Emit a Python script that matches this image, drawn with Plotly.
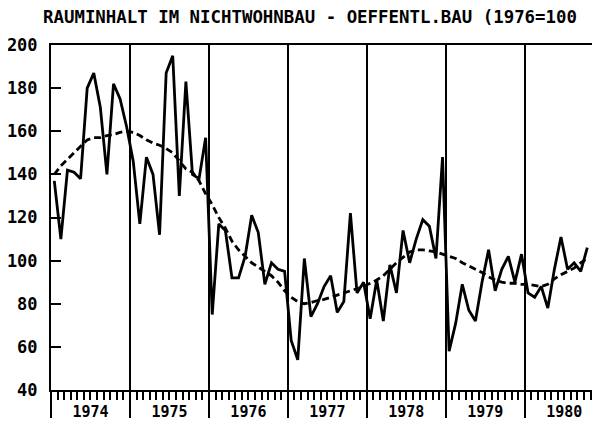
import plotly.graph_objects as go

years = ["1974", "1975", "1976", "1977", "1978", "1979", "1980"]

values = [
    # 1974
    137, 110, 142, 141, 138, 180, 187, 171, 140, 182, 175, 162,
    # 1975
    146, 117, 148, 140, 112, 187, 195, 130, 183, 140, 138, 157,
    # 1976
    75, 117, 114, 92, 92, 102, 121, 113, 89, 99, 96, 95,
    # 1977
    63, 54, 101, 74, 80, 88, 93, 76, 81, 122, 85, 90,
    # 1978
    73, 91, 72, 98, 85, 114, 99, 110, 119, 116, 101, 148,
    # 1979
    58, 71, 89, 77, 72, 90, 105, 86, 96, 102, 90, 103,
    # 1980
    85, 83, 88, 78, 96, 111, 96, 99, 95, 106,
]

trend = [
    # 1974
    140, 144, 147, 150, 153, 156, 157, 157, 158, 158.5, 159.5, 160,
    # 1975
    159.5, 158, 156, 154.5, 153.5, 152, 150, 146, 142.5, 141, 137, 131,
    # 1976
    126, 120, 115, 109, 105, 102, 99, 97, 95, 93, 90, 86,
    # 1977
    83, 81, 80, 80.5, 81.5, 82, 83, 84, 85, 86, 87, 88,
    # 1978
    89.5, 91, 93, 96, 99, 101.5, 104, 105, 105, 104.5, 104, 103,
    # 1979
    102, 101, 99, 97.5, 96, 94.5, 92.5, 91, 90, 89.5, 89.5, 89,
    # 1980
    89, 88.5, 88, 89, 91.5, 93.5, 95, 96.5, 99, 101,
]

y_ticks = [40, 60, 80, 100, 120, 140, 160, 180, 200]
title_text = "RAUMINHALT IM NICHTWOHNBAU - OEFFENTL.BAU (1976=100"

months = [i + 0.5 for i in range(len(values))]
year_bounds = [12 * k for k in range(len(years) + 1)]
year_mids = [12 * k + 6 for k in range(len(years))]

FONT = "DejaVu Sans Mono"

fig = go.Figure()
fig.add_trace(go.Scatter(
    x=months, y=trend, mode="lines",
    line=dict(color="black", width=2.8, dash="7px,4px"),
    showlegend=False, hoverinfo="skip",
))
fig.add_trace(go.Scatter(
    x=months, y=values, mode="lines",
    line=dict(color="black", width=2.8),
    showlegend=False, hoverinfo="skip",
))
# invisible trace for label axis
fig.add_trace(go.Scatter(x=[year_mids[0]], y=[None], xaxis="x2",
                         showlegend=False, hoverinfo="skip"))

x_range = [0, 83.43]

fig.update_layout(
    width=600, height=426,
    margin=dict(l=43, r=8, t=37, b=44),
    paper_bgcolor="white", plot_bgcolor="white",
    font=dict(family=FONT, color="black"),
    xaxis=dict(
        range=x_range, automargin=False,
        tickmode="array", tickvals=year_bounds, ticktext=["" for _ in year_bounds],
        ticks="outside", ticklen=26, tickwidth=2, tickcolor="black",
        showgrid=True, gridcolor="black", gridwidth=2,
        showline=True, linecolor="black", linewidth=2, mirror=True,
        zeroline=False,
        minor=dict(dtick=1, tick0=0, ticks="outside", ticklen=8,
                   tickwidth=1.5, tickcolor="black", showgrid=False),
    ),
    xaxis2=dict(
        range=x_range, overlaying="x", side="bottom", automargin=False,
        tickmode="array", tickvals=year_mids, ticktext=years,
        ticks="", showline=False, showgrid=False, zeroline=False,
        tickfont=dict(family=FONT, size=15, color="black", weight="bold"),
        ticklabelstandoff=11,
    ),
    yaxis=dict(
        range=[40, 200], automargin=False,
        tickmode="array", tickvals=y_ticks, ticktext=[str(v) for v in y_ticks],
        ticks="inside", ticklen=10, tickwidth=2, tickcolor="black",
        showgrid=False, zeroline=False,
        showline=True, linecolor="black", linewidth=2,
        tickfont=dict(family=FONT, size=17, color="black", weight="bold"),
        ticklabelstandoff=8,
    ),
    annotations=[dict(
        text="<b>" + title_text + "</b>",
        xref="paper", yref="paper", x=-10 / 549, y=1.0, yshift=16,
        xanchor="left", yanchor="bottom", showarrow=False,
        font=dict(family=FONT, size=17.4, color="black"),
    )],
)

fig.write_html("out.html")
